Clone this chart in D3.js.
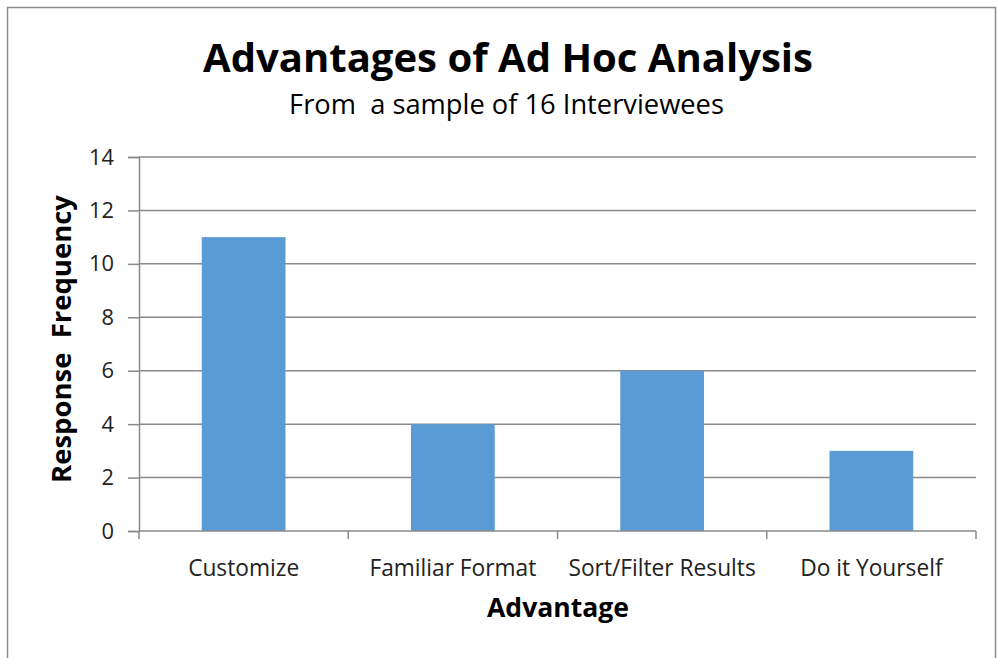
<!DOCTYPE html>
<html><head><meta charset="utf-8">
<script src="https://cdn.jsdelivr.net/npm/d3@7/dist/d3.min.js"></script>
<style>body{margin:0;background:#fff}svg{display:block}text{white-space:pre}</style>
</head><body>
<svg id="c" width="997" height="658"></svg>
<script>
const categories = ["Customize", "Familiar Format", "Sort/Filter Results", "Do it Yourself"];
const values = [11, 4, 6, 3];
const yTicks = [0, 2, 4, 6, 8, 10, 12, 14];
const title = "Advantages of Ad Hoc Analysis";
const subtitle = "From  a sample of 16 Interviewees";
const xTitle = "Advantage";
const yTitle = "Response  Frequency";

const svg = d3.select("#c");
const font = "'Open Sans', sans-serif";
// scale font size so the text spans a target width
function fit(sel, target) {
  const fs = +sel.attr("font-size");
  const w = sel.node().getComputedTextLength();
  sel.attr("font-size", (fs * target / w).toFixed(2));
  return sel;
}
svg.append("rect").attr("x", 7.5).attr("y", 7.5).attr("width", 988).attr("height", 660)
  .attr("fill", "#fff").attr("stroke", "#8c8c8c").attr("stroke-width", 1.5);

const L = 139, R = 976, T = 157, B = 531;
const x = d3.scaleBand().domain(categories).range([L, R]).paddingInner(0.6).paddingOuter(0.3);
const xb = d3.scaleBand().domain(categories).range([L, R]);
const y = d3.scaleLinear().domain([0, 14]).range([B, T]);

// gridlines
svg.append("g").selectAll("line").data(yTicks.filter(d => d > 0)).join("line")
  .attr("x1", L).attr("x2", R).attr("y1", d => y(d)).attr("y2", d => y(d))
  .attr("stroke", "#8a8a8a").attr("stroke-width", 1.5);

// bars
svg.append("g").selectAll("rect").data(values).join("rect")
  .attr("x", (d, i) => x(categories[i])).attr("width", x.bandwidth())
  .attr("y", d => y(d)).attr("height", d => B - y(d)).attr("fill", "#5b9bd5");

// y axis
const ya = svg.append("g").attr("transform", `translate(${L},0)`)
  .call(d3.axisLeft(y).tickValues(yTicks).tickSize(11).tickPadding(14));
ya.select(".domain").attr("stroke", "#8a8a8a").attr("stroke-width", 1.5);
ya.selectAll(".tick line").attr("stroke", "#8a8a8a").attr("stroke-width", 1.5);
ya.selectAll(".tick text").attr("font-family", font).attr("font-size", 18).attr("fill", "#222");
const t14 = ya.selectAll(".tick text").filter(d => d === 14);
fit(t14, 25);
ya.selectAll(".tick text").attr("font-size", t14.attr("font-size"));

// x axis
const xa = svg.append("g").attr("transform", `translate(0,${B})`)
  .call(d3.axisBottom(xb).tickSize(0).tickPadding(29));
xa.select(".domain").remove();
xa.selectAll(".tick text").attr("font-family", font).attr("font-size", 17.5).attr("fill", "#222");
fit(xa.select(".tick text"), 111);
xa.selectAll(".tick text").attr("font-size", xa.select(".tick text").attr("font-size"));
const bounds = [L, ...categories.map(c => xb(c) + xb.bandwidth())];
svg.append("g").selectAll("line").data(bounds).join("line")
  .attr("x1", d => d).attr("x2", d => d).attr("y1", B).attr("y2", B + 8)
  .attr("stroke", "#8a8a8a").attr("stroke-width", 1.5);
svg.append("line").attr("x1", L).attr("x2", R).attr("y1", B).attr("y2", B)
  .attr("stroke", "#8a8a8a").attr("stroke-width", 1.5);

// titles
fit(svg.append("text").attr("x", 508).attr("y", 72).attr("text-anchor", "middle")
  .attr("font-family", font).attr("font-weight", "bold").attr("font-size", 35).attr("fill", "#000").text(title), 610);
fit(svg.append("text").attr("x", 506.5).attr("y", 114).attr("text-anchor", "middle")
  .attr("font-family", font).attr("font-size", 21).attr("fill", "#000").text(subtitle), 435);
fit(svg.append("text").attr("x", 558).attr("y", 617).attr("text-anchor", "middle")
  .attr("font-family", font).attr("font-weight", "bold").attr("font-size", 22).attr("fill", "#000").text(xTitle), 142);
fit(svg.append("text").attr("transform", "translate(71,339) rotate(-90)").attr("text-anchor", "middle")
  .attr("font-family", font).attr("font-weight", "bold").attr("font-size", 22).attr("fill", "#000").text(yTitle), 288);
</script>
</body></html>
